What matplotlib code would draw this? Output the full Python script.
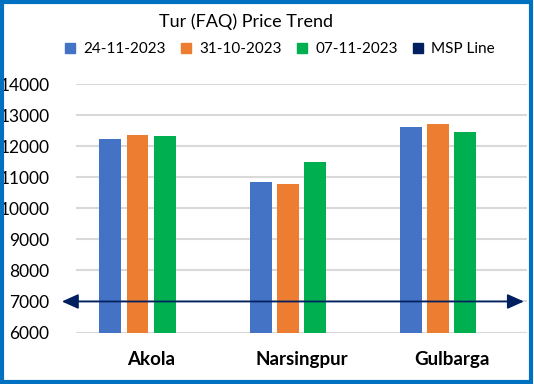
import numpy as np
import matplotlib
matplotlib.use('Agg')
import matplotlib.pyplot as plt
from matplotlib.patches import Patch, Rectangle

plt.rcParams['font.family'] = ['Lato', 'DejaVu Sans']

# data
title = 'Tur (FAQ) Price Trend'
markets = ['Akola', 'Narsingpur', 'Gulbarga']
series_names = ['24-11-2023', '31-10-2023', '07-11-2023']
price_24nov = [12220, 10860, 12620]
price_31oct = [12350, 10790, 12730]
price_07nov = [12320, 11500, 12470]
msp = 7000
y_ticks = [6000, 7000, 8000, 9000, 10000, 11000, 12000, 13000, 14000]

colors = ['#4472C4', '#ED7D31', '#00B050']
msp_color = '#002060'

fig = plt.figure(figsize=(5.34, 3.84), dpi=100)
ax = fig.add_axes([0.142, 0.134, 0.845, 0.647])

x = np.arange(len(markets))
step = 0.18
width = 0.146
# 4 slots per group (4th is the empty MSP series slot, like excel)
offsets = (np.arange(4) - 1.5) * step
for i, vals in enumerate([price_24nov, price_31oct, price_07nov]):
    ax.bar(x + offsets[i], vals, width=width, color=colors[i], zorder=3)

ax.set_xlim(-0.5, len(markets) - 0.5)
ax.set_ylim(y_ticks[0], y_ticks[-1])
ax.set_yticks(y_ticks)
ax.set_yticklabels([str(t) for t in y_ticks], fontsize=12.5)
ax.set_xticks(x)
ax.set_xticklabels(markets, fontsize=13.5, fontweight='bold')
ax.tick_params(length=0)
ax.tick_params(axis='y', pad=19)
ax.tick_params(axis='x', pad=13)
for s in ax.spines.values():
    s.set_visible(False)
ax.grid(axis='y', color='#D9D9D9', linewidth=1.5, zorder=0)

# MSP double arrow
ax.annotate('', xy=(0.993, msp), xytext=(-0.031, msp),
            xycoords=('axes fraction', 'data'), textcoords=('axes fraction', 'data'),
            annotation_clip=False,
            arrowprops=dict(arrowstyle='<|-|>,head_length=1.0,head_width=0.45',
                            mutation_scale=10, color=msp_color, lw=1.3,
                            shrinkA=0, shrinkB=0), zorder=4)

fig.text(0.461, 0.943, title, ha='center', va='center', fontsize=13)

handles = [Patch(color=c) for c in colors] + [Patch(color=msp_color)]
fig.legend(handles, series_names + ['MSP Line'], loc='center', bbox_to_anchor=(0.524, 0.872),
           ncol=4, frameon=False, fontsize=11, handlelength=0.65, handleheight=0.65,
           handletextpad=0.55, columnspacing=1.0, borderaxespad=0)

fig.patches.append(Rectangle((0.004, 0.005), 0.991, 0.99, transform=fig.transFigure,
                             fill=False, edgecolor='#0070C0', linewidth=3))

plt.savefig('out.png', dpi=100)
